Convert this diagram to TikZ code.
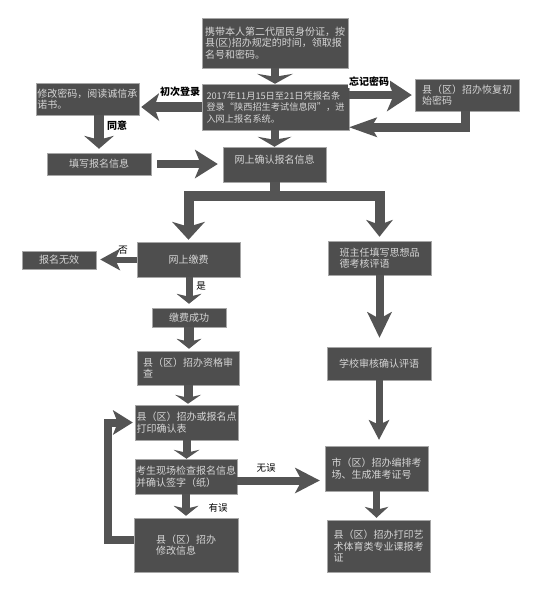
\documentclass[tikz,border=0pt]{standalone}
\usepackage{fontspec}
\setmainfont{Noto Sans CJK SC}
\usetikzlibrary{arrows.meta}
\definecolor{boxgray}{HTML}{4E4E4E}
\definecolor{arrgray}{HTML}{545454}
\definecolor{boxtext}{HTML}{D6D6D6}
\tikzset{
 box/.style={fill=boxgray, draw=gray!70, line width=0.5pt, text=boxtext,
   font=\fontsize{10}{11.5}\selectfont, align=left, inner sep=1pt},
 fat/.style={draw=arrgray, line width=#1, line join=miter},
 fat/.default=8pt,
 hd/.style n args={3}{-{Stealth[length=#1,width=#2,inset=#3,line width=0pt]}},
 lab/.style={font=\fontsize{9.5}{11}\selectfont, text=black, inner sep=1pt},
 blab/.style={font=\fontsize{10}{11}\selectfont\bfseries, text=black, inner sep=1pt}
}
\begin{document}
\begin{tikzpicture}[x=1pt,y=-1pt]
\fill[white] (0,0) rectangle (540,600);
\useasboundingbox (0,0) rectangle (540,600);

% boxes
\node[box, minimum width=146pt, minimum height=50pt] (b1) at (275,43)
  {携带本人第二代居民身份证，按\\县(区)招办规定的时间，领取报\\名号和密码。};
\node[box, font=\fontsize{9.2}{11.5}\selectfont, minimum width=147pt, minimum height=46pt] (b2) at (275.5,107)
  {2017年11月15日至21日凭报名条\\登录“陕西招生考试信息网”，进\\入网上报名系统。};
\node[box, minimum width=103pt, minimum height=32pt] (bl) at (87.5,99)
  {修改密码，阅读诚信承\\诺书。};
\node[box, minimum width=104pt, minimum height=32pt] (br) at (467,95)
  {县（区）招办恢复初\\始密码};
\node[box, minimum width=104pt, minimum height=22pt] (bfill) at (99,164) {填写报名信息};
\node[box, minimum width=103pt, minimum height=35pt] (bconf) at (274.5,164.5) {网上确认报名信息\\~};
\node[box, minimum width=103pt, minimum height=35pt] (bpay) at (188.5,259.5) {网上缴费};
\node[box, minimum width=74pt, minimum height=18pt] (binv) at (59,260) {报名无效};
\node[box, minimum width=103pt, minimum height=34pt] (bteach) at (379.5,258)
  {班主任填写思想品\\德考核评语};
\node[box, minimum width=74pt, minimum height=19pt] (bpaid) at (189,317.5) {缴费成功};
\node[box, minimum width=102pt, minimum height=34pt] (bqual) at (188,368)
  {县（区）招办资格审\\查};
\node[box, minimum width=104pt, minimum height=33pt] (bschool) at (379,363.5) {学校审核确认评语};
\node[box, minimum width=103pt, minimum height=35pt] (bprint) at (186.5,422.5)
  {县（区）招办或报名点\\打印确认表};
\node[box, minimum width=102pt, minimum height=35pt] (bcheck) at (186,476.5)
  {考生现场检查报名信息\\并确认签字（纸）};
\node[box, minimum width=104pt, minimum height=54pt] (bmod) at (186,545)
  {县（区）招办\\修改信息};
\node[box, minimum width=103pt, minimum height=45pt] (bcity) at (376.5,468.5)
  {市（区）招办编排考\\场、生成准考证号};
\node[box, minimum width=103pt, minimum height=52pt] (bcard) at (378.5,546)
  {县（区）招办打印艺\\术体育类专业课报考\\证};

% connectors
\draw[fat, hd={10pt}{36pt}{3pt}] (b1.south) -- (b1.south |- b2.north);
\draw[fat=10pt, hd={18pt}{28pt}{5pt}, shorten >=2pt] (b2.west) -- (b2.west -| bl.east);
\draw[fat, hd={25pt}{33pt}{7pt}, shorten >=3pt] (b2.east |- br.west) -- (br.west);
\draw[fat=9pt, hd={28pt}{20pt}{6pt}] ([xshift=-2pt]br.south) |- ([yshift=3pt]b2.south east);
\draw[fat=10pt, hd={13pt}{30pt}{4pt}, shorten >=4pt] (bl.south -| bfill.north) -- (bfill.north);
\draw[fat, hd={23pt}{29pt}{6pt}, shorten <=6pt, shorten >=5pt] (bfill.east) -- (bfill.east -| bconf.west);
\draw[fat, hd={10pt}{34pt}{3pt}] (b2.south -| bconf.north) -- (bconf.north);

\coordinate (split) at ([yshift=-14pt]bconf.south);
\draw[fat=10pt] (bconf.south) -- (split);
\draw[fat=10pt, hd={18pt}{33pt}{5pt}, shorten >=2pt] (split) -| (bpay.north);
\draw[fat=10pt, hd={17pt}{27pt}{5pt}, shorten >=4pt] (split) -| (bteach.north);

\draw[fat=6pt, hd={20pt}{22pt}{5pt}, shorten >=4pt] (bpay.west) -- (bpay.west -| binv.east);
\draw[fat=7pt, hd={10pt}{25pt}{3pt}, shorten >=4pt] (bpay.south -| bpaid.north) -- (bpaid.north);
\draw[fat=10pt, hd={10pt}{25pt}{3pt}, shorten >=2pt] (bpaid.south) -- (bpaid.south |- bqual.north);
\draw[fat=9pt, hd={9pt}{26pt}{3pt}, shorten >=1pt] (bqual.south) -- (bqual.south |- bprint.north);
\draw[fat=8pt, hd={9pt}{26pt}{3pt}] (bprint.south) -- (bprint.south |- bcheck.north);
\draw[fat=8pt, hd={10pt}{25pt}{3pt}, shorten >=2pt] (bcheck.south) -- (bcheck.south |- bmod.north);
\draw[fat=8pt, hd={20pt}{25pt}{5pt}, shorten >=2pt] ([yshift=5pt]bmod.west) -- ++(-26,0) |- (bprint.west);

\coordinate (c1) at ([yshift=-4pt]bcheck.east);
\draw[fat=8pt, hd={25pt}{26pt}{7pt}, shorten >=5pt] (c1) -- (c1 -| bcity.west);
\draw[fat=8pt, hd={26pt}{25pt}{7pt}, shorten >=9pt] (bteach.south) -- (bteach.south |- bschool.north);
\draw[fat=7pt, hd={20pt}{21pt}{5pt}, shorten >=6pt] (bschool.south) -- (bschool.south |- bcity.north);
\draw[fat=7pt, hd={11pt}{24pt}{3pt}, shorten >=2pt] (bcity.south) -- (bcity.south |- bcard.north);

% labels
\node[blab, fill=white] (l1) at (180,92) {初次登录};
\node[blab, fill=white] (l2) at (369,82) {忘记密码};
\node[blab] (l3) at (117,126) {同意};
\node[lab] (l4) at (123,250) {否};
\node[lab] (l5) at (201,286) {是};
\node[lab] (l6) at (266,468) {无误};
\node[lab] (l7) at (218,508) {有误};
\end{tikzpicture}
\end{document}
